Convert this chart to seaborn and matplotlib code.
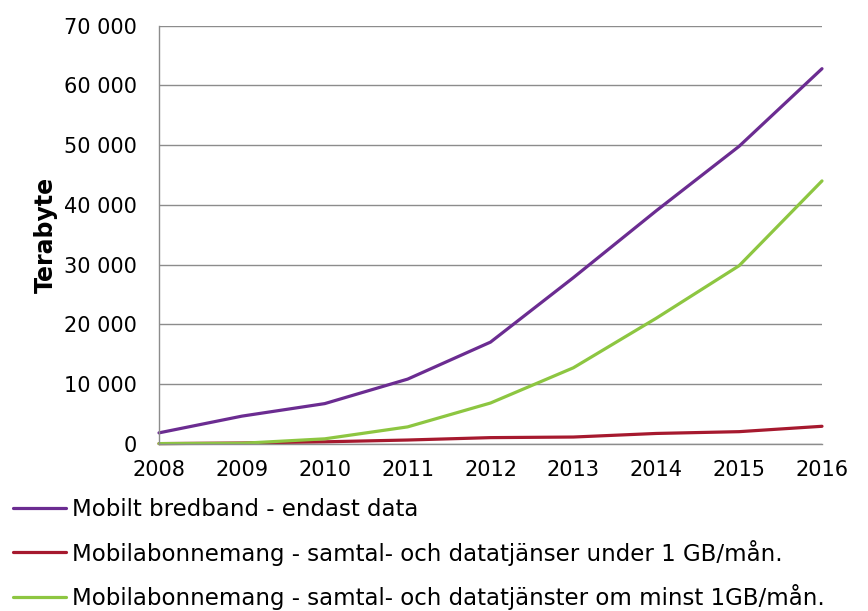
import matplotlib
matplotlib.use("Agg")
import matplotlib.pyplot as plt
import matplotlib.ticker as mticker
import pandas as pd
import seaborn as sns

years = [2008, 2009, 2010, 2011, 2012, 2013, 2014, 2015, 2016]
bredband = [1800, 4600, 6700, 10800, 17000, 27800, 39000, 49800, 62800]
under_1gb = [0, 100, 300, 600, 1000, 1100, 1700, 2000, 2900]
minst_1gb = [0, 50, 800, 2800, 6800, 12700, 21000, 29800, 44000]

labels = [
    "Mobilt bredband - endast data",
    "Mobilabonnemang - samtal- och datatjänser under 1 GB/mån.",
    "Mobilabonnemang - samtal- och datatjänster om minst 1GB/mån.",
]
colors = ["#6B2C91", "#A6192E", "#8DC641"]

df = pd.concat([
    pd.DataFrame({"year": years, "value": vals, "serie": lab})
    for vals, lab in zip([bredband, under_1gb, minst_1gb], labels)
])

sns.set_theme(style="white")
plt.rcParams["font.family"] = ["DejaVu Sans"]
plt.rcParams["text.color"] = "black"
plt.rcParams["axes.labelcolor"] = "black"

fig = plt.figure(figsize=(8.68, 6.11), dpi=100)
W, H = 868, 611
ax = fig.add_axes([159 / W, 1 - 443.6 / H, (822 - 159) / W, (443.6 - 25.7) / H])

sns.lineplot(data=df, x="year", y="value", hue="serie", palette=colors,
             linewidth=2.3, ax=ax, clip_on=False)

ax.set_xlim(2008, 2016)
ax.set_ylim(0, 70000)
ax.set_xticks(years)
ax.set_yticks(range(0, 70001, 10000))
ax.yaxis.set_major_formatter(mticker.FuncFormatter(lambda v, p: f"{int(v):,}".replace(",", " ")))
ax.grid(axis="y", color="#8c8c8c", linewidth=1)
ax.set_axisbelow(True)
for s in ["top", "right"]:
    ax.spines[s].set_visible(False)
for s in ["left", "bottom"]:
    ax.spines[s].set_color("#8c8c8c")
    ax.spines[s].set_linewidth(1)
ax.tick_params(axis="y", length=0, labelsize=15, pad=16, colors="black")
ax.tick_params(axis="x", direction="in", length=6, color="#8c8c8c", labelsize=15, pad=12, labelcolor="black")
ax.set_xlabel("")
ax.set_ylabel("Terabyte", fontsize=17, fontweight="bold", labelpad=4)

sns.move_legend(ax, "upper left", bbox_to_anchor=(4 / W, 1 - 489 / H),
                bbox_transform=fig.transFigure, frameon=False, title=None,
                fontsize=16.5, handlelength=2.3, handletextpad=0.25,
                labelspacing=0.8, borderaxespad=0)

fig.savefig("out.png", dpi=100)
